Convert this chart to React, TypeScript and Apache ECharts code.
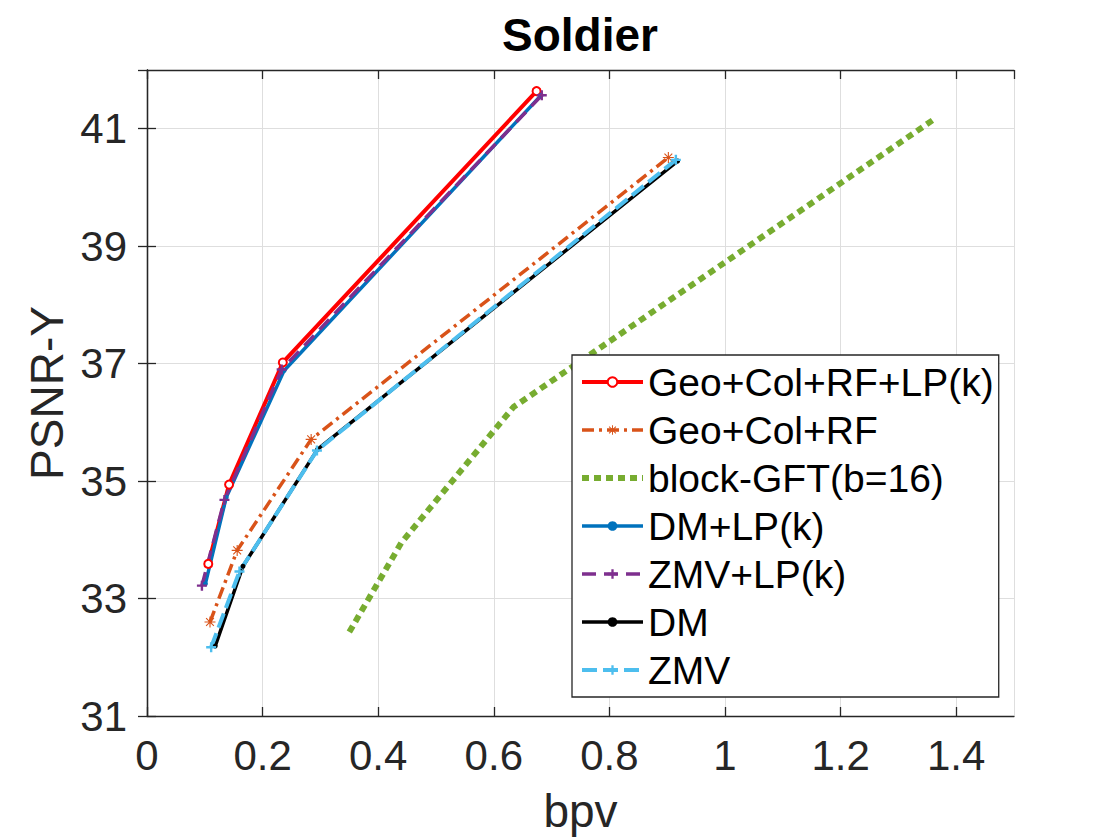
import React, { useEffect, useRef } from "react";
import * as echarts from "echarts";

const seriesNames = [
  "Geo+Col+RF+LP(k)",
  "Geo+Col+RF",
  "block-GFT(b=16)",
  "DM+LP(k)",
  "ZMV+LP(k)",
  "DM",
  "ZMV",
];

const geoColRfLpX = [0.106, 0.142, 0.235, 0.674];
const geoColRfLpY = [33.59, 34.94, 37.02, 41.64];
const geoColRfX = [0.109, 0.156, 0.284, 0.902];
const geoColRfY = [32.6, 33.82, 35.71, 40.51];
const blockGftX = [0.35, 0.44, 0.634, 1.36];
const blockGftY = [32.43, 33.95, 36.26, 41.15];
const dmLpX = [0.101, 0.137, 0.237, 0.682];
const dmLpY = [33.25, 34.72, 36.88, 41.57];
const zmvLpX = [0.095, 0.134, 0.233, 0.683];
const zmvLpY = [33.22, 34.68, 36.9, 41.57];
const dmX = [0.118, 0.166, 0.295, 0.918];
const dmY = [32.19, 33.55, 35.54, 40.45];
const zmvX = [0.111, 0.16, 0.294, 0.915];
const zmvY = [32.17, 33.46, 35.52, 40.47];

const xTickLabels = ["0", "0.2", "0.4", "0.6", "0.8", "1", "1.2", "1.4"];
const yTickLabels = ["31", "33", "35", "37", "39", "41"];

const FONT = "'Liberation Sans', Arial, Helvetica, sans-serif";
const AXIS_COLOR = "#262626";

const ASTERISK =
  "path://M4.5,0h1v10h-1zM0,4.5h10v1h-10zM1.1,1.8l0.7,-0.7l7.1,7.1l-0.7,0.7zM8.2,1.1l0.7,0.7l-7.1,7.1l-0.7,-0.7z";
const PLUS = "path://M3.8,0h2.4v10h-2.4zM0,3.8h10v2.4h-10z";

function pairs(xs: number[], ys: number[]) {
  return xs.map((x, i) => [x, ys[i]]);
}

export default function App() {
  const ref = useRef<HTMLDivElement>(null);

  useEffect(() => {
    if (!ref.current) return;
    const chart = echarts.init(ref.current, undefined, { renderer: "svg" });

    const fmtX = (v: number) => {
      const s = xTickLabels.find((t) => Math.abs(parseFloat(t) - v) < 1e-6);
      return s ?? "";
    };
    const fmtY = (v: number) => {
      const s = yTickLabels.find((t) => Math.abs(parseFloat(t) - v) < 1e-6);
      return s ?? "";
    };

    const baseAxis = {
      axisLine: { show: true, lineStyle: { color: AXIS_COLOR, width: 1.3 } },
      axisTick: { show: true, inside: true, length: 9, lineStyle: { color: AXIS_COLOR, width: 1.3 } },
    };

    const option: any = {
      animation: false,
      backgroundColor: "#ffffff",
      title: {
        text: "Soldier",
        left: 580,
        textAlign: "center",
        top: 12,
        padding: 0,
        textStyle: { fontFamily: FONT, fontSize: 46, fontWeight: "bold", color: "#000" },
      },
      grid: { left: 147, right: 106, top: 70, bottom: 124, containLabel: false },
      xAxis: [
        {
          ...baseAxis,
          type: "value",
          min: 0,
          max: 1.5,
          interval: 0.2,
          position: "bottom",
          name: "bpv",
          nameLocation: "middle",
          nameGap: 72,
          nameMoveOverlap: false,
          nameTextStyle: { fontFamily: FONT, fontSize: 46, color: AXIS_COLOR },
          axisLabel: {
            showMaxLabel: false,
            margin: 18,
            fontFamily: FONT,
            fontSize: 42,
            color: AXIS_COLOR,
            formatter: fmtX,
          },
          splitLine: { show: true, lineStyle: { color: "#dedede", width: 1 } },
        },
        {
          ...baseAxis,
          type: "value",
          min: 0,
          max: 1.5,
          interval: 0.2,
          position: "top",
          axisLabel: { show: false },
          splitLine: { show: false },
        },
      ],
      yAxis: [
        {
          ...baseAxis,
          type: "value",
          min: 31,
          max: 42,
          interval: 2,
          position: "left",
          name: "PSNR-Y",
          nameLocation: "middle",
          nameGap: 77,
          nameMoveOverlap: false,
          nameTextStyle: { fontFamily: FONT, fontSize: 46, color: AXIS_COLOR },
          axisLabel: {
            showMaxLabel: false,
            margin: 20,
            fontFamily: FONT,
            fontSize: 42,
            color: AXIS_COLOR,
            formatter: fmtY,
          },
          splitLine: { show: true, lineStyle: { color: "#dedede", width: 1 } },
        },
        {
          ...baseAxis,
          type: "value",
          min: 31,
          max: 42,
          interval: 2,
          position: "right",
          axisLabel: { show: false },
          splitLine: { show: false },
        },
      ],
      legend: {
        orient: "vertical",
        left: 572,
        top: 355,
        padding: [3, 5, 3, 7],
        itemWidth: 61,
        itemHeight: 12,
        itemGap: 0,
        backgroundColor: "#ffffff",
        borderColor: AXIS_COLOR,
        borderWidth: 1.3,
        lineStyle: { width: "inherit" },
        textStyle: { fontFamily: FONT, fontSize: 39, lineHeight: 48, color: "#000" },
        data: seriesNames.map((n) =>
          n === "block-GFT(b=16)" ? { name: n, itemStyle: { opacity: 0 } } : { name: n }
        ),
      },
      series: [
        {
          name: seriesNames[0],
          type: "line",
          data: pairs(geoColRfLpX, geoColRfLpY),
          symbol: "emptyCircle",
          symbolSize: 8,
          itemStyle: { color: "#ff0000", borderWidth: 2.5 },
          lineStyle: { color: "#ff0000", width: 4 },
        },
        {
          name: seriesNames[1],
          type: "line",
          data: pairs(geoColRfX, geoColRfY),
          symbol: ASTERISK,
          symbolSize: 11,
          itemStyle: { color: "#d95319" },
          lineStyle: { color: "#d95319", width: 3.5, type: [12, 5, 3, 5] },
        },
        {
          name: seriesNames[2],
          type: "line",
          data: pairs(blockGftX, blockGftY),
          symbol: "none",
          itemStyle: { color: "#77ac30" },
          lineStyle: { color: "#77ac30", width: 6, type: [7, 5], cap: "butt" },
        },
        {
          name: seriesNames[3],
          type: "line",
          data: pairs(dmLpX, dmLpY),
          symbol: "circle",
          symbolSize: 5,
          itemStyle: { color: "#0072bd" },
          lineStyle: { color: "#0072bd", width: 3.5 },
        },
        {
          name: seriesNames[4],
          type: "line",
          data: pairs(zmvLpX, zmvLpY),
          symbol: PLUS,
          symbolSize: 10,
          itemStyle: { color: "#7e2f8e" },
          lineStyle: { color: "#7e2f8e", width: 3.5, type: [14, 8] },
        },
        {
          name: seriesNames[5],
          type: "line",
          data: pairs(dmX, dmY),
          symbol: "circle",
          symbolSize: 5,
          itemStyle: { color: "#000000" },
          lineStyle: { color: "#000000", width: 3.5 },
        },
        {
          name: seriesNames[6],
          type: "line",
          data: pairs(zmvX, zmvY),
          symbol: PLUS,
          symbolSize: 10,
          itemStyle: { color: "#4dbeee" },
          lineStyle: { color: "#4dbeee", width: 4, type: [15, 6] },
        },
      ],
    };

    chart.setOption(option);
    return () => chart.dispose();
  }, []);

  return (
    <div
      ref={ref}
      style={{ position: "absolute", left: 0, top: 0, width: 1120, height: 840, background: "#fff" }}
    />
  );
}
